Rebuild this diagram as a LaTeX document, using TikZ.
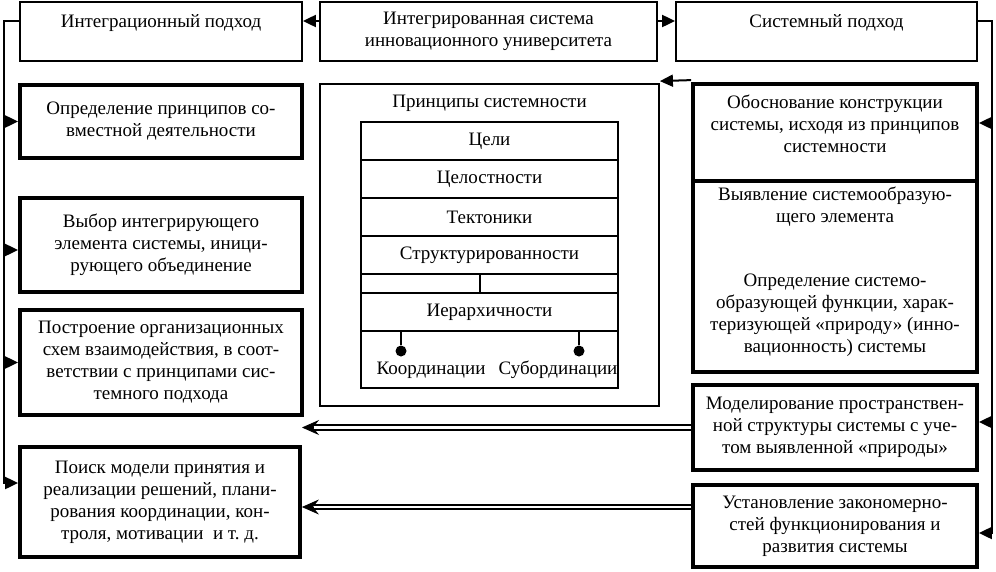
\documentclass[tikz,border=0pt]{standalone}
\usepackage{fontspec}
\setmainfont{Liberation Serif}
\usetikzlibrary{arrows.meta,calc}
\tikzset{
  every node/.style={font=\rmfamily\fontsize{19}{22}\selectfont},
  thinbox/.style={draw, line width=1.8pt, align=center, inner sep=0pt},
  thickbox/.style={draw, line width=3.8pt, align=center, inner sep=0pt},
  cell/.style={draw, line width=1.5pt, align=center, inner sep=0pt, minimum width=257pt, minimum height=38pt},
  txt/.style={align=center, inner sep=0pt},
  arr/.style={line width=2pt, -{Triangle[length=13pt,width=12pt]}},
  dbl/.style={double, double distance=2.5pt, line width=1.8pt, shorten >=12pt},
  dbltip/.style={line width=0.8pt, -{Stealth[length=17pt,width=15pt,inset=6pt]}},
  dotn/.style={circle, fill=black, inner sep=0pt, minimum size=11pt},
  stem/.style={line width=1.8pt}
}
\begin{document}
\begin{tikzpicture}[x=1pt,y=-1pt]
\useasboundingbox (0,0) rectangle (996,571);
% top row
\node[thinbox, minimum width=282pt, minimum height=59pt] (ip) at (161,31.5) {Интеграционный подход\\~};
\node[thinbox, minimum width=337pt, minimum height=59pt] (ii) at (488.5,31.5) {Интегрированная система\\инновационного университета};
\node[thinbox, minimum width=301pt, minimum height=59pt] (sp) at (826.5,31.5) {Системный подход\\~};
% left column
\node[thickbox, minimum width=282pt, minimum height=73pt] (L1) at (161,121.5) {Определение принципов со-\\вместной деятельности};
\node[thickbox, minimum width=282pt, minimum height=94pt] (L2) at (161,245) {Выбор интегрирующего\\элемента системы, иници-\\рующего объединение};
\node[thickbox, minimum width=282pt, minimum height=105pt] (L3) at (161,362.5) {Построение организационных\\схем взаимодействия, в соот-\\ветствии с принципами сис-\\темного подхода};
\node[thickbox, minimum width=280pt, minimum height=110pt] (L4) at (160,502) {Поиск модели принятия и\\реализации решений, плани-\\рования координации, кон-\\троля, мотивации~ и т.~д.};
% centre
\node[thinbox, minimum width=339pt, minimum height=322pt] (P) at (489.5,245) {};
\node[txt] (Pt) at (489.5,103) {Принципы системности};
\node[cell] (c1) at (489.5,141) {Цели};
\node[cell] (c2) at (489.5,179) {Целостности};
\node[cell] (c3) at (489.5,217) {Тектоники};
\node[cell] (c4) at (489.5,255) {Структурированности};
\node[cell, minimum width=119pt, minimum height=19pt] (c5a) at (420.5,283.5) {};
\node[cell, minimum width=138pt, minimum height=19pt] (c5b) at (549,283.5) {};
\node[cell] (c6) at (489.5,312) {Иерархичности};
\node[cell, minimum height=57pt] (c7) at (489.5,359.5) {};
\node[dotn] (d1) at (401,351) {};
\node[dotn] (d2) at (579,351) {};
\draw[stem] (d1) -- (d1 |- c6.south);
\draw[stem] (d2) -- (d2 |- c6.south);
\node[txt] (k1) at (431,370) {Координации};
\node[txt] (k2) at (558,370) {Субординации};
% right column
\node[thickbox, minimum width=284pt, minimum height=97pt] (R1a) at (835,132.5) {};
\node[thickbox, minimum width=284pt, minimum height=191pt] (R1b) at (835,276.5) {};
\node[txt] (R1at) at (835,124) {Обоснование конструкции\\системы, исходя из принципов\\системности};
\node[txt] (R1bt1) at (835,207) {Выявление системообразую-\\щего элемента};
\node[txt] (R1bt2) at (835,315) {Определение системо-\\образующей функции, харак-\\теризующей «природу» (инно-\\вационность) системы};
\node[thickbox, minimum width=284pt, minimum height=85pt] (R2) at (835,427.5) {Моделирование пространствен-\\ной структуры системы с уче-\\том выявленной «природы»};
\node[thickbox, minimum width=284pt, minimum height=82pt] (R3) at (835,526) {Установление закономерно-\\стей функционирования и\\развития системы};
% top arrows
\draw[arr] ([yshift=10.5pt]ii.west) -- ([yshift=10.5pt]ip.east);
\draw[arr] ([yshift=10.5pt]ii.east) -- ([yshift=10.5pt]sp.west);
% left bus
\coordinate (lbT) at (4,21);
\coordinate (lbB) at (4,483);
\draw[arr] ([yshift=10.5pt]ip.west) -- (lbT) -- (lbB) -- ([yshift=19pt]L4.west);
\draw[arr] (L1.west -| lbT) -- (L1.west);
\draw[arr] ([yshift=-5pt]L2.west -| lbT) -- ([yshift=-5pt]L2.west);
\draw[arr] (L3.west -| lbT) -- (L3.west);
% right bus
\coordinate (rbT) at (992,21);
\coordinate (rbB) at (992,533);
\draw[arr] ([yshift=10.5pt]sp.east) -- (rbT) -- (rbB) -- (R3.east |- rbB);
\draw[arr] ([yshift=9.5pt]R1a.east -| rbT) -- ([yshift=9.5pt]R1a.east);
\draw[arr] ([yshift=5.5pt]R2.east -| rbT) -- ([yshift=5.5pt]R2.east);
% R1a -> P
\draw[arr] ([yshift=2pt]R1a.north west) -- ([yshift=2pt]P.north east);
% double arrows
\coordinate (gA) at (302,428);
\draw[dbltip] (R2.west) -- (R2.west -| gA);
\draw[dbl] (R2.west) -- (R2.west -| gA);
\draw[dbltip] ([yshift=19pt]R3.west) -- ([yshift=19pt]R3.west -| L4.east);
\draw[dbl] ([yshift=19pt]R3.west) -- ([yshift=19pt]R3.west -| L4.east);
\end{tikzpicture}
\end{document}
